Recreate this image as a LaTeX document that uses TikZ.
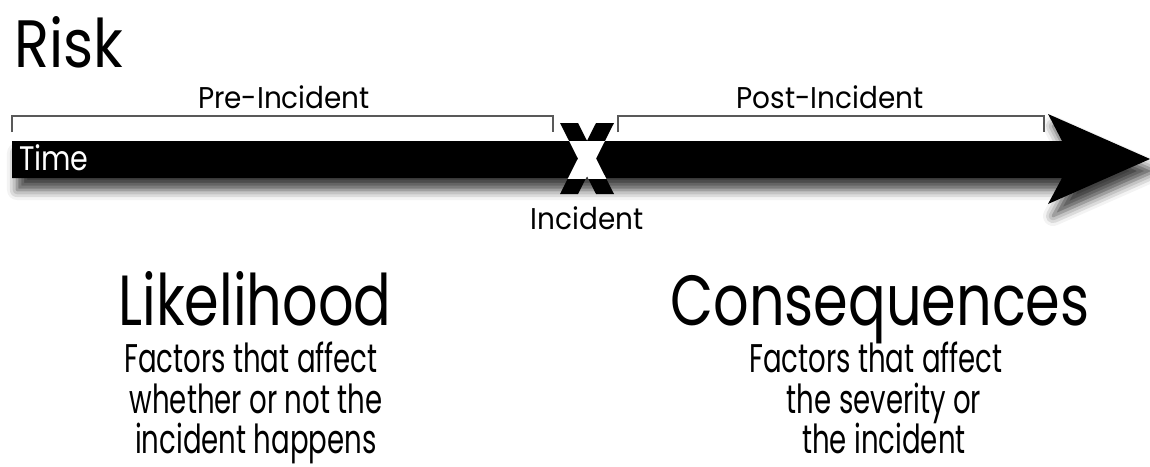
\documentclass[tikz,border=0pt]{standalone}
\usepackage{fontspec}
\setmainfont{Poppins}
\newfontfamily\ftitle[FakeStretch=0.86]{Poppins}
\newfontfamily\flabel[FakeStretch=0.93]{Poppins}
\newfontfamily\ftime[FakeStretch=0.84]{Poppins}
\newfontfamily\fbig[FakeStretch=0.785]{Poppins}
\newfontfamily\fsub[FakeStretch=0.69]{Poppins}
\usetikzlibrary{shadows.blur}
\tikzset{
  lbl/.style={inner sep=0pt, outer sep=0pt, anchor=base},
  brk/.style={draw=black!65, line width=1.8pt},
}
\newcommand{\fsz}[1]{\fontsize{#1}{#1}\selectfont}
\begin{document}
\begin{tikzpicture}[x=1pt,y=-1pt]
\useasboundingbox (0,0) rectangle (1150,466);
% title
\node[lbl, anchor=base west] (risk) at (14,67) {\ftitle\fsz{67}Risk};
% brackets
\coordinate (l1) at (12,132); \coordinate (l2) at (12,116);
\coordinate (l3) at (553,116); \coordinate (l4) at (553,132);
\coordinate (r1) at (618,132); \coordinate (r2) at (618,116);
\coordinate (r3) at (1044,116); \coordinate (r4) at (1044,132);
\draw[brk] (l1) -- (l2) -- (l3) -- (l4);
\draw[brk] (r1) -- (r2) -- (r3) -- (r4);
\node[lbl] (pre) at (284,108) {\flabel\fsz{30}Pre-Incident};
\node[lbl] (post) at (830,108) {\flabel\fsz{30}Post-Incident};
% arrow
\fill[black, blur shadow={shadow xshift=5pt, shadow yshift=-12pt, shadow blur radius=10pt, shadow opacity=75}]
  (12,141) -- (1062,141) -- (1048,114) -- (1150,159) -- (1048,204) -- (1062,178) -- (12,178) -- cycle;
\node[lbl, anchor=base west, text=white] (time) at (19,170) {\ftime\fsz{34}Time};
% X
\fill[black] (560,123) -- (578,123) -- (614,194) -- (596,194) -- cycle;
\fill[black] (596,123) -- (614,123) -- (578,194) -- (560,194) -- cycle;
\begin{scope}
\clip (12,141) rectangle (1062,178);
\fill[white] (560,123) -- (578,123) -- (614,194) -- (596,194) -- cycle;
\fill[white] (596,123) -- (614,123) -- (578,194) -- (560,194) -- cycle;
\end{scope}
\node[lbl] (inc) at (587,229) {\flabel\fsz{30}Incident};
% bottom texts
\node[lbl] (lik) at (255,325) {\fbig\fsz{71}Likelihood};
\node[lbl] (lik1) at (251,372) {\fsub\fsz{40}Factors that affect};
\node[lbl] (lik2) at (256,413) {\fsub\fsz{40}whether or not the};
\node[lbl] (lik3) at (256,453) {\fsub\fsz{40}incident happens};
\node[lbl] (con) at (880,325) {\fbig\fsz{71}Consequences};
\node[lbl] (con1) at (876,372) {\fsub\fsz{40}Factors that affect};
\node[lbl] (con2) at (884,413) {\fsub\fsz{40}the severity or};
\node[lbl] (con3) at (884,453) {\fsub\fsz{40}the incident};
\end{tikzpicture}
\end{document}
